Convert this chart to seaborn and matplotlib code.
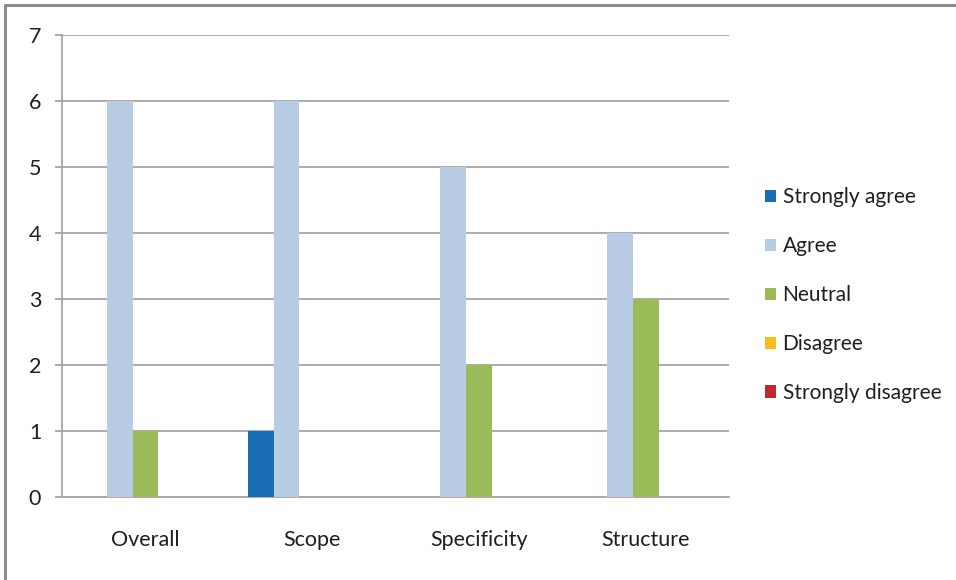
import matplotlib
matplotlib.use("Agg")
import matplotlib.pyplot as plt
import seaborn as sns
import pandas as pd
from matplotlib.patches import Patch
from matplotlib.lines import Line2D

categories = ["Overall", "Scope", "Specificity", "Structure"]
series = ["Strongly agree", "Agree", "Neutral", "Disagree", "Strongly disagree"]
strongly_agree = [0, 1, 0, 0]
agree = [6, 6, 5, 4]
neutral = [1, 0, 2, 3]
disagree = [0, 0, 0, 0]
strongly_disagree = [0, 0, 0, 0]
colors = ["#1A6DB5", "#B8CCE4", "#9BBB59", "#F9BC1C", "#C0282B"]

values = [strongly_agree, agree, neutral, disagree, strongly_disagree]
rows = []
for s, vals in zip(series, values):
    for c, v in zip(categories, vals):
        rows.append({"Category": c, "Response": s, "Count": v})
df = pd.DataFrame(rows)

sns.set_theme(style="white")
plt.rcParams["font.family"] = ["Lato", "DejaVu Sans"]

fig = plt.figure(figsize=(9.56, 5.8), dpi=100)
ax = fig.add_axes([0.0649, 0.1431, 0.7626 - 0.0649, 0.9397 - 0.1431])

sns.barplot(data=df, x="Category", y="Count", hue="Response",
            order=categories, hue_order=series, palette=colors,
            width=0.77, gap=0, saturation=1, ax=ax, legend=False,
            errorbar=None, linewidth=0, zorder=3)

grid_c = "#A6A6A6"
txt_c = "#1F1F1F"
ax.set_ylim(0, 7)
ax.set_xlim(-0.5, 3.5)
ax.set_yticks(range(0, 8))
ax.yaxis.grid(True, color=grid_c, linewidth=1.3, zorder=0)
ax.set_axisbelow(True)
for side in ["top", "right"]:
    ax.spines[side].set_visible(False)
for side in ["left", "bottom"]:
    ax.spines[side].set_color(grid_c)
    ax.spines[side].set_linewidth(1.3)

ax.set_xticks(range(len(categories)))
ax.set_xticklabels(categories)
ax.set_xticks([i - 0.5 for i in range(len(categories) + 1)], minor=True)
ax.tick_params(axis="x", which="major", length=0, pad=24, labelsize=15.5, labelcolor=txt_c)
ax.tick_params(axis="x", which="minor", length=4, width=1.3, color=grid_c, direction="out")
ax.tick_params(axis="y", which="major", length=5, width=1.3, color=grid_c, direction="out",
               pad=10, labelsize=15.5, labelcolor=txt_c, left=True)
ax.set_xlabel("")
ax.set_ylabel("")

handles = [Patch(facecolor=c, edgecolor="none", label=s) for c, s in zip(colors, series)]
fig.legend(handles=handles, loc="center left", bbox_to_anchor=(0.800, 0.491),
           frameon=False, fontsize=15, handlelength=0.55, handleheight=0.55,
           handletextpad=0.3, labelspacing=1.39, borderpad=0, borderaxespad=0,
           labelcolor=txt_c)

# outer frame (top and left edges visible)
fig.add_artist(Line2D([0.005, 1.0], [1 - 5 / 580, 1 - 5 / 580], transform=fig.transFigure,
                      color="#8C8C8C", linewidth=2.2))
fig.add_artist(Line2D([5 / 956, 5 / 956], [0.0, 1 - 5 / 580], transform=fig.transFigure,
                      color="#8C8C8C", linewidth=2.2))

fig.savefig("out.png", dpi=100, facecolor="white")
